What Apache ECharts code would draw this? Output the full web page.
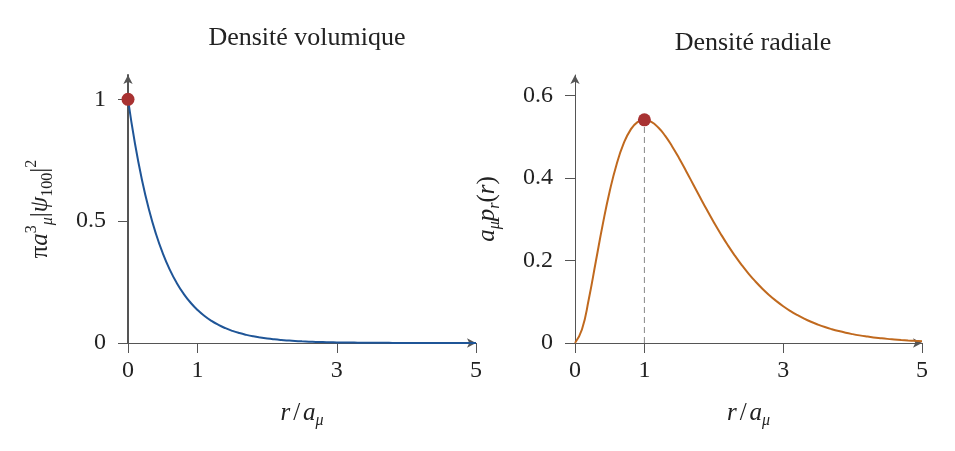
<!DOCTYPE html>
<html>
<head>
<meta charset="utf-8">
<script src="https://cdn.jsdelivr.net/npm/echarts@6/dist/echarts.min.js"></script>
<style>
  html, body { margin: 0; padding: 0; background: #fff; }
  #chart { width: 955px; height: 451px; }
</style>
</head>
<body>
<div id="chart"></div>
<script>
  // r / a_mu, step 0.1 from 0 to 5
  var rValues = [0, 0.1, 0.2, 0.3, 0.4, 0.5, 0.6, 0.7, 0.8, 0.9,
                 1.0, 1.1, 1.2, 1.3, 1.4, 1.5, 1.6, 1.7, 1.8, 1.9,
                 2.0, 2.1, 2.2, 2.3, 2.4, 2.5, 2.6, 2.7, 2.8, 2.9,
                 3.0, 3.1, 3.2, 3.3, 3.4, 3.5, 3.6, 3.7, 3.8, 3.9,
                 4.0, 4.1, 4.2, 4.3, 4.4, 4.5, 4.6, 4.7, 4.8, 4.9, 5.0];

  // densite volumique
  var volumique = [1, 0.8187, 0.6703, 0.5488, 0.4493, 0.3679, 0.3012, 0.2466, 0.2019, 0.1653,
                   0.1353, 0.1108, 0.0907, 0.0743, 0.0608, 0.0498, 0.0408, 0.0334, 0.0273, 0.0224,
                   0.0183, 0.0150, 0.0123, 0.0101, 0.0082, 0.0067, 0.0055, 0.0045, 0.0037, 0.0030,
                   0.0025, 0.0020, 0.0017, 0.0014, 0.0011, 0.0009, 0.0007, 0.0006, 0.0005, 0.0004,
                   0.0003, 0.0003, 0.0002, 0.0002, 0.0002, 0.0001, 0.0001, 0.0001, 0.0001, 0.0001, 0.0000];

  // densite radiale
  var radiale = [0, 0.0327, 0.1073, 0.1976, 0.2876, 0.3679, 0.4337, 0.4833, 0.5169, 0.5356,
                 0.5413, 0.5363, 0.5225, 0.5023, 0.4768, 0.4481, 0.4174, 0.3858, 0.3541, 0.3230,
                 0.2931, 0.2646, 0.2377, 0.2127, 0.1896, 0.1684, 0.1492, 0.1317, 0.1160, 0.1019,
                 0.0892, 0.0780, 0.0681, 0.0593, 0.0515, 0.0447, 0.0387, 0.0335, 0.0289, 0.0249,
                 0.0215, 0.0185, 0.0159, 0.0136, 0.0117, 0.0100, 0.0086, 0.0073, 0.0062, 0.0053, 0.0045];

  var volPeak = [0, 1];
  var radPeak = [1, 0.5413];

  var xTicks = [0, 1, 3, 5];
  var volTicks = [0, 0.5, 1];
  var radTicks = [0, 0.2, 0.4, 0.6];

  var chart = echarts.init(document.getElementById('chart'));

  var font = 'Liberation Serif';
  var axisGray = '#555555';

  function pairs(ys) {
    return rValues.map(function (x, i) { return [x, ys[i]]; });
  }

  var richMath = {
    n: { fontFamily: font, fontSize: 25, fontStyle: 'italic', color: '#222', lineHeight: 32 },
    r: { fontFamily: font, fontSize: 25, color: '#222', lineHeight: 32 },
    sl: { fontFamily: font, fontSize: 25, color: '#222', lineHeight: 32, padding: [0, 3, 0, 3] },
    sup: { fontFamily: font, fontSize: 16, color: '#222', verticalAlign: 'top' },
    sub: { fontFamily: font, fontSize: 16, fontStyle: 'italic', color: '#222', verticalAlign: 'bottom' },
    subr: { fontFamily: font, fontSize: 16, color: '#222', verticalAlign: 'bottom' }
  };

  function xAxisOf(idx) {
    return {
      type: 'value',
      gridIndex: idx,
      min: 0,
      max: 5,
      name: '{n|r}{sl|/}{n|a}{sub|μ}',
      nameLocation: 'middle',
      nameGap: 54,
      nameTextStyle: { rich: richMath },
      axisLine: { lineStyle: { color: axisGray, width: 1 }, symbol: ['none', 'arrow'], symbolSize: [7, 9] },
      axisTick: { customValues: xTicks, length: 10, lineStyle: { color: axisGray } },
      axisLabel: { customValues: xTicks, fontFamily: font, fontSize: 24, color: '#222', margin: 16 },
      splitLine: { show: false }
    };
  }

  var option = {
    animation: false,
    backgroundColor: '#ffffff',
    title: [
      { text: 'Densité volumique', left: 302, top: 20, textAlign: 'center',
        textStyle: { fontFamily: font, fontSize: 26, fontWeight: 'normal', color: '#222' } },
      { text: 'Densité radiale', left: 748, top: 25, textAlign: 'center',
        textStyle: { fontFamily: font, fontSize: 26, fontWeight: 'normal', color: '#222' } }
    ],
    grid: [
      { left: 128, right: 479, top: 75, bottom: 108 },
      { left: 575, right: 33, top: 75, bottom: 108 }
    ],
    xAxis: [xAxisOf(0), xAxisOf(1)],
    yAxis: [
      {
        type: 'value',
        gridIndex: 0,
        min: 0,
        max: 1.1,
        name: '{r|π}{n|a}{sup|3}{sub|μ}{r||}{n|ψ}{subr|100}{r||}{sup|2}',
        nameLocation: 'middle',
        nameGap: 72,
        nameTextStyle: { rich: richMath },
        axisLine: { lineStyle: { color: axisGray, width: 2 }, symbol: ['none', 'arrow'], symbolSize: [7, 9] },
        axisTick: { customValues: volTicks, length: 10, lineStyle: { color: axisGray } },
        axisLabel: { customValues: volTicks, fontFamily: font, fontSize: 24, color: '#222', margin: 22 },
        splitLine: { show: false }
      },
      {
        type: 'value',
        gridIndex: 1,
        min: 0,
        max: 0.65,
        name: '{n|a}{sub|μ}{n|p}{sub|r}{r|(}{n|r}{r|)}',
        nameLocation: 'middle',
        nameGap: 72,
        nameTextStyle: { rich: richMath },
        axisLine: { lineStyle: { color: axisGray, width: 1 }, symbol: ['none', 'arrow'], symbolSize: [7, 9] },
        axisTick: { customValues: radTicks, length: 10, lineStyle: { color: axisGray } },
        axisLabel: { customValues: radTicks, fontFamily: font, fontSize: 24, color: '#222', margin: 22 },
        splitLine: { show: false }
      }
    ],
    series: [
      {
        type: 'line',
        xAxisIndex: 0, yAxisIndex: 0,
        data: pairs(volumique),
        smooth: true,
        showSymbol: false,
        lineStyle: { color: '#1f5597', width: 2 },
        z: 3
      },
      {
        type: 'line',
        xAxisIndex: 1, yAxisIndex: 1,
        data: [[radPeak[0], 0], radPeak],
        showSymbol: false,
        lineStyle: { color: '#888888', width: 1, type: [6, 4] },
        z: 2
      },
      {
        type: 'line',
        xAxisIndex: 1, yAxisIndex: 1,
        data: pairs(radiale),
        smooth: true,
        showSymbol: false,
        lineStyle: { color: '#c0691e', width: 2 },
        z: 3
      },
      {
        type: 'scatter',
        xAxisIndex: 0, yAxisIndex: 0,
        data: [volPeak],
        symbolSize: 13,
        itemStyle: { color: '#a83232', opacity: 1 },
        z: 5
      },
      {
        type: 'scatter',
        xAxisIndex: 1, yAxisIndex: 1,
        data: [radPeak],
        symbolSize: 13,
        itemStyle: { color: '#a83232', opacity: 1 },
        z: 5
      }
    ]
  };

  chart.setOption(option);
</script>
</body>
</html>
